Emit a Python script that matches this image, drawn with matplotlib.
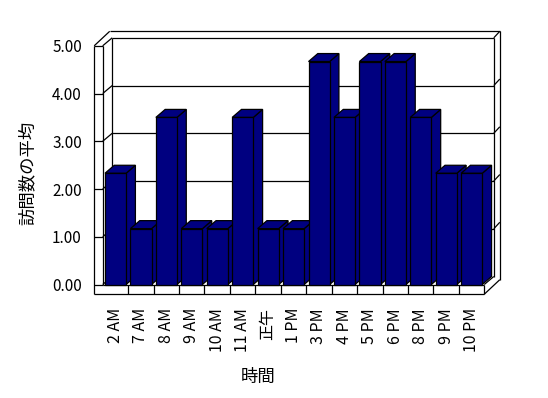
import matplotlib
matplotlib.use('Agg')
import matplotlib.pyplot as plt
from matplotlib.patches import Polygon
from matplotlib.lines import Line2D
from matplotlib.transforms import IdentityTransform

categories = ['2 AM', '7 AM', '8 AM', '9 AM', '10 AM', '11 AM', '正午', '1 PM',
              '3 PM', '4 PM', '5 PM', '6 PM', '8 PM', '9 PM', '10 PM']
values = [2.33, 1.17, 3.50, 1.17, 1.17, 3.50, 1.17, 1.17,
          4.67, 3.50, 4.67, 4.67, 3.50, 2.33, 2.33]
y_ticks = [0, 1, 2, 3, 4, 5]
y_tick_labels = ['0.00', '1.00', '2.00', '3.00', '4.00', '5.00']
x_title = '時間'
y_title = '訪問数の平均'

plt.rcParams['font.family'] = ['Noto Sans CJK JP', 'DejaVu Sans']

W, H = 548, 398
fig = plt.figure(figsize=(W / 100, H / 100), dpi=100)
fig.patch.set_facecolor('white')
ax = fig.add_axes([102.7 / W, (H - 284.5) / H, (484.3 - 102.7) / W, (284.5 - 45.8) / H])
n = len(categories)
ymax = y_ticks[-1]
ax.set_xlim(0, n)
ax.set_ylim(0, ymax)
ax.patch.set_visible(False)
for s in ax.spines.values():
    s.set_visible(False)

# 3D-look geometry (pixels)
DX, DY = 9.5, 8.0        # depth to inner back wall
BX, BY = 6.0, 6.5        # back wall thickness
WALL_T = 8.5             # left wall thickness
FLOOR_T = 9.7            # floor thickness
BDX, BDY = 9.3, 8.0      # bar depth
BAR_A, BAR_W = 0.09, 0.83
LW = 0.9
NAVY = '#000080'


def P(x, y, ox=0.0, oy=0.0):
    px, py = ax.transData.transform((x, y))
    return (px + ox, py + oy)


def seg(p, q, z=1):
    ax.add_line(Line2D([p[0], q[0]], [p[1], q[1]], transform=IdentityTransform(),
                       color='black', lw=LW, zorder=z, clip_on=False,
                       solid_capstyle='butt'))


def poly(pts, fc, z):
    ax.add_patch(Polygon(pts, closed=True, transform=IdentityTransform(), fc=fc,
                         ec='black', lw=LW, zorder=z, clip_on=False,
                         joinstyle='miter'))


# back wall
seg(P(0, ymax, DX, DY), P(n, ymax, DX, DY))
seg(P(n, ymax, DX, DY), P(n, 0, DX, DY))
for v in y_ticks[1:-1]:
    seg(P(0, v, DX, DY), P(n, v, DX, DY))
for v in y_ticks[1:]:
    seg(P(n, v, DX, DY), P(n, v, DX + BX, DY + BY))
seg(P(0, ymax, DX + BX - WALL_T, DY + BY), P(n, ymax, DX + BX, DY + BY))
seg(P(n, ymax, DX + BX, DY + BY), P(n, 0, DX + BX, DY + BY - FLOOR_T))

# left wall
seg(P(0, ymax, -WALL_T, 0), P(0, 0, -WALL_T, -FLOOR_T))
seg(P(0, ymax, 0, 0), P(0, 0, 0, 0))
seg(P(0, ymax, DX, DY), P(0, 0, DX, DY))
for v in y_ticks:
    seg(P(0, v, -WALL_T, 0), P(0, v, 0, 0))
    seg(P(0, v, 0, 0), P(0, v, DX, DY))
seg(P(0, ymax, -WALL_T, 0), P(0, ymax, -WALL_T + DX + BX, DY + BY))

# floor
seg(P(0, 0, 0, 0), P(n, 0, 0, 0))
seg(P(0, 0, -WALL_T, -FLOOR_T), P(n, 0, 0, -FLOOR_T))
seg(P(n, 0, 0, 0), P(n, 0, 0, -FLOOR_T))
for i in range(1, n):
    seg(P(i, 0, 0, 0), P(i, 0, 0, -FLOOR_T))
seg(P(n, 0, 0, 0), P(n, 0, DX, DY))
seg(P(n, 0, 0, -FLOOR_T), P(n, 0, DX + BX, DY + BY - FLOOR_T))

# bars
for i, v in enumerate(values):
    x0, x1 = i + BAR_A, i + BAR_A + BAR_W
    z = 3 + i
    poly([P(x1, 0), P(x1, v), P(x1, v, BDX, BDY), P(x1, 0, BDX, BDY)], NAVY, z)
    poly([P(x0, v), P(x1, v), P(x1, v, BDX, BDY), P(x0, v, BDX, BDY)], NAVY, z)
    poly([P(x0, 0), P(x1, 0), P(x1, v), P(x0, v)], NAVY, z)

ax.set_yticks(y_ticks, y_tick_labels)
ax.set_xticks([i + 0.5 for i in range(n)], categories, rotation=90)
ax.tick_params(axis='y', length=0, pad=15.0, labelsize=11)
ax.tick_params(axis='x', length=0, pad=16.9, labelsize=11.5)

fig.text(28 / W, 1 - 173 / H, y_title, rotation=90, ha='center', va='center', fontsize=12.5)
fig.text(258 / W, 1 - 377 / H, x_title, ha='center', va='center', fontsize=12.5)

fig.savefig('out.png', dpi=100, facecolor='white')
